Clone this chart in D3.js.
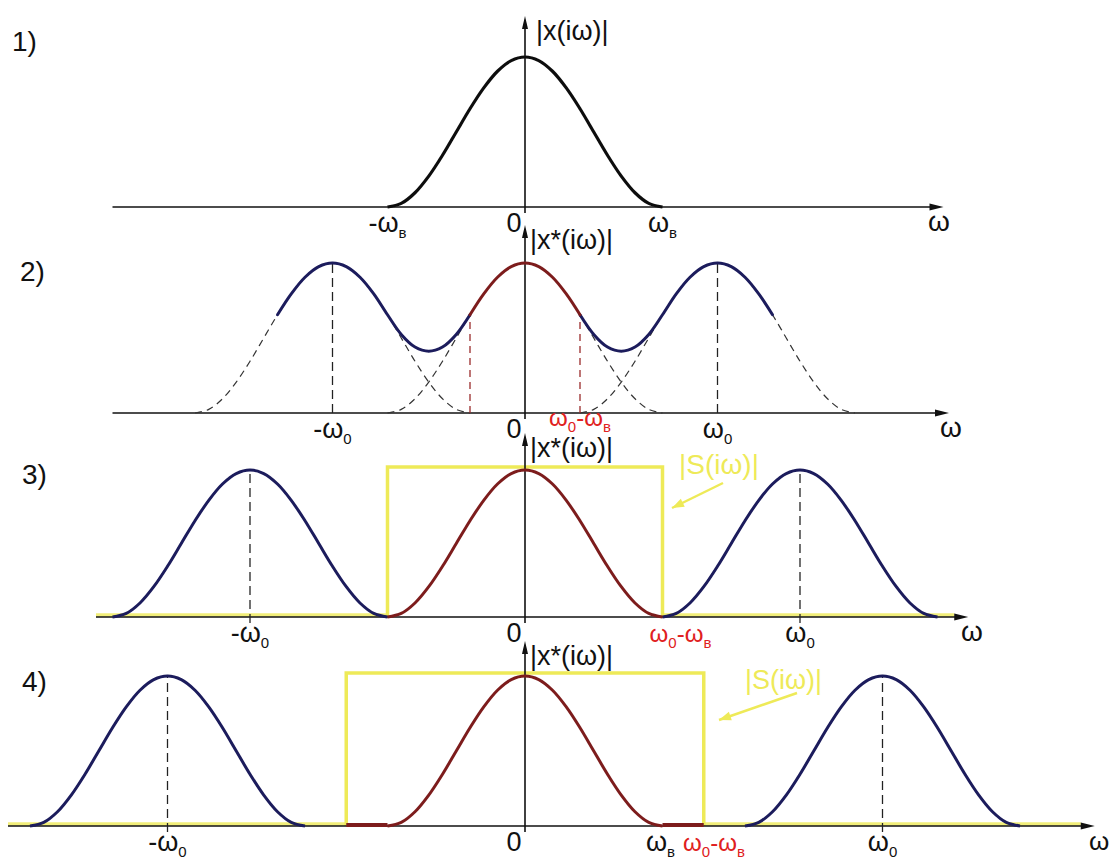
<!DOCTYPE html>
<html>
<head>
<meta charset="utf-8">
<script src="https://cdn.jsdelivr.net/npm/d3@7"></script>
<style>
  body { margin: 0; background: #ffffff; }
  text { font-family: "Liberation Sans", Arial, sans-serif; }
</style>
</head>
<body>
<svg id="chart" width="1112" height="860"></svg>
<script>
// ---- data -------------------------------------------------------------
// amplitude spectrum |x(iω)| of the band-limited signal, sampled at offsets
// from its centre (units: ω, with ωв = 5)
const bellOffsets = [-5, -4.5, -4, -3.5, -3, -2.5, -2, -1.5, -1, -0.5, 0,
                     0.5, 1, 1.5, 2, 2.5, 3, 3.5, 4, 4.5, 5];
const bellHeights = [0, 0.024, 0.095, 0.206, 0.345, 0.5, 0.655, 0.794, 0.905, 0.976, 1,
                     0.976, 0.905, 0.794, 0.655, 0.5, 0.345, 0.206, 0.095, 0.024, 0];

const omegaB = 5;                       // upper frequency of the signal
const carrierFreq = [0, 7, 10, 13];     // sampling frequency ω0 in panels 1..4
const filterCutoff = [0, 0, 5, 6.5];    // half-width of the ideal filter |S(iω)|
const filterGain = [0, 0, 1.02, 1.02];
const axisFrom = [-15, -15, -15.6, -18.8];
const axisTo   = [15.0, 15.2, 15.9, 20.5];

const panelNames = ["1)", "2)", "3)", "4)"];
const yAxisTitles = ["|x(iω)|", "|x*(iω)|", "|x*(iω)|", "|x*(iω)|"];

// tick labels: value, text (ω_0 means ω with subscript 0), red for the band edge
const tickLabels = [
  [{v: -5, t: "-ω_в"}, {v: 0, t: "0"}, {v: 5, t: "ω_в"}],
  [{v: -7, t: "-ω_0"}, {v: 0, t: "0"}, {v: 2, t: "ω_0-ω_в", red: true}, {v: 7, t: "ω_0"}],
  [{v: -10, t: "-ω_0"}, {v: 0, t: "0"}, {v: 5, t: "ω_0-ω_в", red: true}, {v: 10, t: "ω_0"}],
  [{v: -13, t: "-ω_0"}, {v: 0, t: "0"}, {v: 5, t: "ω_в"}, {v: 8, t: "ω_0-ω_в", red: true}, {v: 13, t: "ω_0"}]
];

// ---- layout -----------------------------------------------------------
const baseY = [207, 413, 617, 826];
const ampPx = [150, 150, 147, 150];
const yAxisTop = [20, 229, 437, 645];
const panelLabelPos = [[12, 51], [20, 281], [22, 484], [22, 691]];
const omegaLabelX = [928, 940, 961, 1089];
const tickDx = [[0, 0, 0], [0, 0, 0, 0], [0, 0, 18, 0], [0, 0, -2, -31, 0]];
const sLabel = [null, null, {x: 679, y: 474, size: 28}, {x: 745, y: 689, size: 27}];
const sArrow = [null, null, [[723, 483], [672, 508]], [[797, 693], [719, 720]]];

const colBlue = "#1b1b5c", colRed = "#7d1f1f", colYellow = "#eeea58";

const svg = d3.select("#chart");
const x = d3.scaleLinear().domain([-5, 5]).range([387.5, 662.5]);

const defs = svg.append("defs");
const blur = defs.append("filter").attr("id", "soft").attr("x", "-5%").attr("y", "-5%")
  .attr("width", "110%").attr("height", "110%");
blur.append("feGaussianBlur").attr("stdDeviation", 0.6);

const bellMap = new Map(bellOffsets.map((o, i) => [o, bellHeights[i]]));
const bellAt = (d) => bellMap.has(d) ? bellMap.get(d) : 0;
const bellPoints = (c) => bellOffsets.map((o, i) => [c + o, bellHeights[i]]);

function richText(sel, str, big, small) {
  const parts = str.split(/(_.)/).filter(s => s.length);
  let shifted = false;
  parts.forEach(p => {
    if (p[0] === "_") {
      sel.append("tspan").attr("font-size", small).attr("dy", 6).text(p[1]);
      shifted = true;
    } else {
      const ts = sel.append("tspan").attr("font-size", big).text(p);
      if (shifted) { ts.attr("dy", -6); shifted = false; }
    }
  });
}

for (let p = 0; p < 4; p++) {
  const g = svg.append("g");
  const y = d3.scaleLinear().domain([0, 1]).range([baseY[p], baseY[p] - ampPx[p]]);
  const line = d3.line().x(d => x(d[0])).y(d => y(d[1])).curve(d3.curveCatmullRom.alpha(0.5));
  const w0 = carrierFreq[p];

  // filter |S(iω)|: baseline glow and rectangle
  if (filterCutoff[p] > 0) {
    const fc = filterCutoff[p];
    const fy = y(filterGain[p]);
    g.append("line").attr("x1", x(axisFrom[p])).attr("x2", x(-fc))
      .attr("y1", baseY[p] - 2).attr("y2", baseY[p] - 2)
      .attr("stroke", colYellow).attr("stroke-width", 3.5).attr("opacity", 0.8);
    g.append("line").attr("x1", x(fc)).attr("x2", x(axisTo[p]) - 8)
      .attr("y1", baseY[p] - 2).attr("y2", baseY[p] - 2)
      .attr("stroke", colYellow).attr("stroke-width", 3.5).attr("opacity", 0.8);
    g.append("path")
      .attr("d", `M${x(-fc)},${baseY[p]} V${fy} H${x(fc)} V${baseY[p]}`)
      .attr("fill", "none").attr("stroke", colYellow).attr("stroke-width", 3.5)
      .attr("filter", "url(#soft)");
  }

  // horizontal axis with arrow
  g.append("line").attr("x1", x(axisFrom[p])).attr("x2", x(axisTo[p]))
    .attr("y1", baseY[p]).attr("y2", baseY[p]).attr("stroke", "#111").attr("stroke-width", 1.6);
  const ax = x(axisTo[p]);
  g.append("path").attr("d", `M${ax + 6},${baseY[p]} L${ax - 8},${baseY[p] - 3.5} L${ax - 8},${baseY[p] + 3.5} Z`)
    .attr("fill", "#111");

  // vertical axis with arrow
  g.append("line").attr("x1", x(0)).attr("x2", x(0))
    .attr("y1", yAxisTop[p]).attr("y2", baseY[p] + 6).attr("stroke", "#111").attr("stroke-width", 1.6);
  g.append("path").attr("d", `M${x(0)},${yAxisTop[p] - 4} L${x(0) - 3},${yAxisTop[p] + 9} L${x(0) + 3},${yAxisTop[p] + 9} Z`)
    .attr("fill", "#111");

  const soft = g.append("g").attr("filter", "url(#soft)");

  if (p === 0) {
    soft.append("path").attr("d", line(bellPoints(0))).attr("fill", "none")
      .attr("stroke", "#111").attr("stroke-width", 3.2);
  } else if (p === 1) {
    const centers = [-w0, 0, w0];
    // individual replicas, dashed
    centers.forEach(c => {
      soft.append("path").attr("d", line(bellPoints(c))).attr("fill", "none")
        .attr("stroke", "#333").attr("stroke-width", 1.2).attr("stroke-dasharray", "7,5");
    });
    // carrier markers
    [-w0, w0].forEach(c => {
      soft.append("line").attr("x1", x(c)).attr("x2", x(c)).attr("y1", baseY[p]).attr("y2", y(1))
        .attr("stroke", "#222").attr("stroke-width", 1.3).attr("stroke-dasharray", "9,5");
    });
    const sumAt = (w) => d3.sum(centers, c => bellAt(w - c));
    const edge = w0 - omegaB;
    [-edge, edge].forEach(c => {
      soft.append("line").attr("x1", x(c)).attr("x2", x(c)).attr("y1", baseY[p]).attr("y2", y(sumAt(c)))
        .attr("stroke", "#9a2a2a").attr("stroke-width", 1.3).attr("stroke-dasharray", "7,5");
    });
    // resulting spectrum: outer parts blue, central part red
    const seg = (a, b) => d3.range(a, b + 0.01, 0.5).map(w => [w, sumAt(w)]);
    [[-w0 - edge, -edge, colBlue], [edge, w0 + edge, colBlue], [-edge, edge, colRed]].forEach(([a, b, col]) => {
      soft.append("path").attr("d", line(seg(a, b))).attr("fill", "none")
        .attr("stroke", col).attr("stroke-width", 3).attr("stroke-linecap", "round");
    });
  } else {
    [-w0, w0].forEach(c => {
      soft.append("line").attr("x1", x(c)).attr("x2", x(c)).attr("y1", baseY[p] + 6).attr("y2", y(1))
        .attr("stroke", "#222").attr("stroke-width", 1.3).attr("stroke-dasharray", "9,5");
      soft.append("path").attr("d", line(bellPoints(c))).attr("fill", "none")
        .attr("stroke", colBlue).attr("stroke-width", 3);
    });
    // passed central part, extended along the axis up to the filter edge
    const fc = filterCutoff[p];
    if (fc > omegaB) {
      soft.append("line").attr("x1", x(-fc)).attr("x2", x(-omegaB)).attr("y1", baseY[p] - 1).attr("y2", baseY[p] - 1)
        .attr("stroke", colRed).attr("stroke-width", 4);
      soft.append("line").attr("x1", x(omegaB)).attr("x2", x(fc)).attr("y1", baseY[p] - 1).attr("y2", baseY[p] - 1)
        .attr("stroke", colRed).attr("stroke-width", 4);
    }
    soft.append("path").attr("d", line(bellPoints(0))).attr("fill", "none")
      .attr("stroke", colRed).attr("stroke-width", 3);
  }

  // filter caption with pointer
  if (sLabel[p]) {
    g.append("text").attr("x", sLabel[p].x).attr("y", sLabel[p].y)
      .attr("font-size", sLabel[p].size).attr("fill", colYellow).text("|S(iω)|");
    const [a, b] = sArrow[p];
    const ang = Math.atan2(b[1] - a[1], b[0] - a[0]);
    g.append("line").attr("x1", a[0]).attr("y1", a[1]).attr("x2", b[0]).attr("y2", b[1])
      .attr("stroke", colYellow).attr("stroke-width", 2.5);
    const L = 12, W = 4.5;
    const bx = b[0] - L * Math.cos(ang), by = b[1] - L * Math.sin(ang);
    g.append("path").attr("d",
      `M${b[0]},${b[1]} L${bx - W * Math.sin(ang)},${by + W * Math.cos(ang)} L${bx + W * Math.sin(ang)},${by - W * Math.cos(ang)} Z`)
      .attr("fill", colYellow);
  }

  // panel number, axis titles
  g.append("text").attr("x", panelLabelPos[p][0]).attr("y", panelLabelPos[p][1])
    .attr("font-size", 28).attr("fill", "#111").text(panelNames[p]);
  g.append("text").attr("x", x(0) + (p === 0 ? 11 : 5)).attr("y", yAxisTop[p] + 20)
    .attr("font-size", 27).attr("fill", "#111").text(yAxisTitles[p]);
  g.append("text").attr("x", omegaLabelX[p]).attr("y", baseY[p] + 24)
    .attr("font-size", p === 3 ? 26 : 28).attr("fill", "#111").text("ω");

  // tick labels
  tickLabels[p].forEach((d, i) => {
    const t = g.append("text")
      .attr("x", x(d.v) + tickDx[p][i] + (d.v === 0 ? -11 : 0))
      .attr("y", baseY[p] + (d.red && p === 1 ? 13 : 25))
      .attr("text-anchor", "middle")
      .attr("fill", d.red ? "#e02020" : "#111");
    richText(t, d.t, d.red ? 24 : 27, 15);
  });
}
</script>
</body>
</html>
